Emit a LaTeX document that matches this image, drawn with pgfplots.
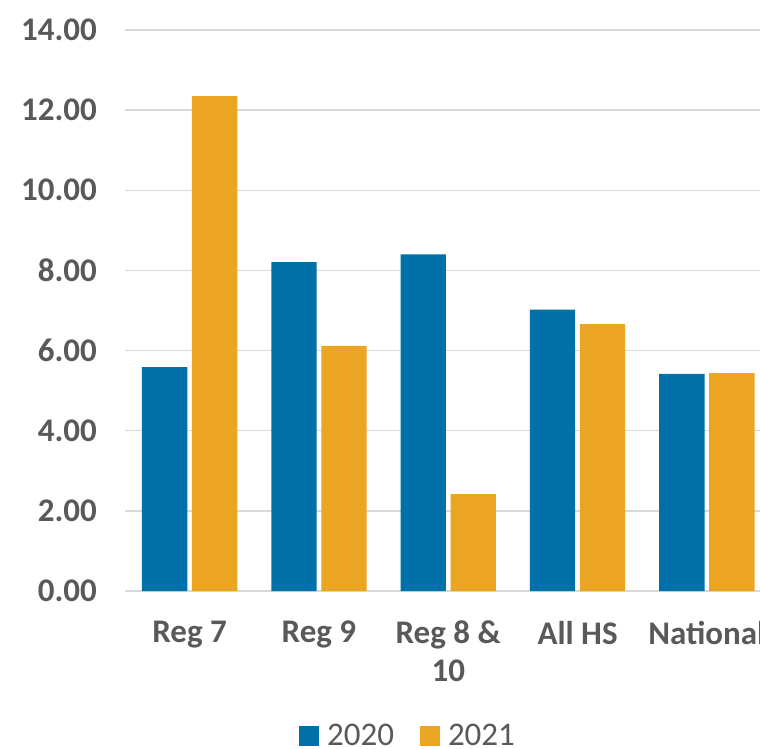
\documentclass[border=0pt]{standalone}
\usepackage{pgfplots}
\pgfplotsset{compat=1.18}
\usepackage{fontspec}
\setmainfont{Carlito}

\definecolor{bar2020}{HTML}{0070A8}
\definecolor{bar2021}{HTML}{ECA523}
\definecolor{txtgray}{HTML}{595959}
\definecolor{gridgray}{HTML}{D9D9D9}

\begin{document}
\begin{tikzpicture}
    \begin{axis}[
        scale only axis,
        width=646.5pt, height=561pt,
        ybar=4.7pt,
        bar width=45.3pt,
        xmin=-0.5, xmax=4.5,
        ymin=0, ymax=14,
        xtick={0,1,2,3,4},
        xticklabels={Reg 7, Reg 9, Reg 8 \&\\10, All HS, National},
        ytick={0,2,...,14},
        major tick length=0pt,
        axis line style={draw=none},
        ymajorgrids=true,
        grid style={gridgray, line width=1.5pt},
        yticklabel style={
            /pgf/number format/fixed,
            /pgf/number format/fixed zerofill,
            /pgf/number format/precision=2,
            /pgf/number format/assume math mode=true,
            font=\fontsize{33}{38}\selectfont\bfseries,
            text=txtgray, anchor=east, inner sep=0pt, xshift=-28pt
        },
        xticklabel style={
            font=\fontsize{33}{38}\selectfont\bfseries,
            text=txtgray, anchor=north, inner sep=0pt, yshift=-30pt,
            align=center
        },
        scaled y ticks=false,
        legend columns=2,
        legend style={
            at={(0.269,-0.258)}, anchor=west,
            draw=none, fill=none, inner sep=0pt,
            font=\fontsize{33}{38}\selectfont,
            text=txtgray,
            /tikz/every odd column/.append style={column sep=6pt},
            /tikz/every even column/.append style={column sep=24pt}
        },
        legend image code/.code={
            \fill[#1] (0pt,-10pt) rectangle (20pt,10pt);
        },
    ]
    \addplot[fill=bar2020, draw=none]
        coordinates {(0,5.59)(1,8.21)(2,8.40)(3,7.02)(4,5.42)};
    \addlegendentry{2020}
    \addplot[fill=bar2021, draw=none]
        coordinates {(0,12.35)(1,6.12)(2,2.42)(3,6.66)(4,5.44)};
    \addlegendentry{2021}
    \end{axis}
    \pgfresetboundingbox
    \path[use as bounding box] (-125pt,-157pt) rectangle (635pt,591pt);
\end{tikzpicture}
\end{document}
